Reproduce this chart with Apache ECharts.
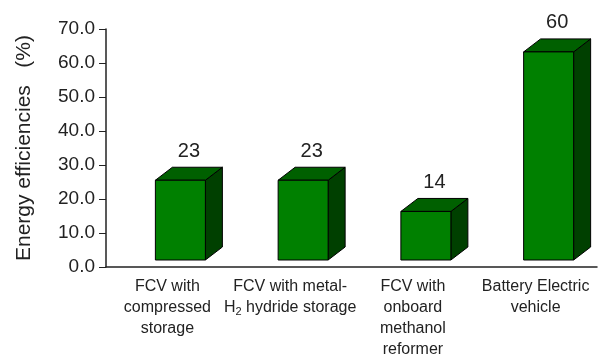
<!DOCTYPE html>
<html>
<head>
<meta charset="utf-8">
<script src="https://cdn.jsdelivr.net/npm/echarts@6/dist/echarts.min.js"></script>
<style>
  html, body { margin: 0; padding: 0; background: #fff; }
  #chart-show { width: 598px; height: 360px; }
</style>
</head>
<body>
<div id="chart-show"></div>
<script>
// categories & values
var categories = [
    'FCV with\ncompressed\nstorage',
    'FCV with metal-\n{sub|H}{low|2} hydride storage',
    'FCV with\nonboard\nmethanol\nreformer',
    'Battery Electric\nvehicle'
];
var efficiencies = [23, 23, 14, 60];
var yTicks = [0, 10, 20, 30, 40, 50, 60, 70];

window.onload = function () {
    var myChart = echarts.init(document.getElementById('chart-show'));

    // 3D box: front face + top + right side
    function renderBox(params, api) {
        var idx = api.value(0);
        var val = api.value(1);
        var base = api.coord([idx, 0]);
        var top = api.coord([idx, val]);
        var fw = 50, dx = 17, dy = 13;
        var cx = base[0] + 13;
        var x0 = cx - fw / 2, x1 = cx + fw / 2;
        var yb = base[1] - 7;
        var yt = yb - (base[1] - top[1]) * 1.02;
        var line = { stroke: '#000', lineWidth: 1 };
        return {
            type: 'group',
            children: [
                {
                    type: 'polygon',
                    shape: { points: [[x1, yt], [x1 + dx, yt - dy], [x1 + dx, yb - dy], [x1, yb]] },
                    style: Object.assign({ fill: '#004000' }, line)
                },
                {
                    type: 'polygon',
                    shape: { points: [[x0, yt], [x0 + dx, yt - dy], [x1 + dx, yt - dy], [x1, yt]] },
                    style: Object.assign({ fill: '#006000' }, line)
                },
                {
                    type: 'rect',
                    shape: { x: x0, y: yt, width: fw, height: yb - yt },
                    style: Object.assign({ fill: '#008000' }, line)
                },
                {
                    type: 'text',
                    x: cx + dx / 2,
                    y: yt - dy - 6,
                    style: {
                        text: String(val),
                        fill: '#222',
                        font: '20px Arial, "Liberation Sans"',
                        align: 'center',
                        verticalAlign: 'bottom'
                    }
                }
            ]
        };
    }

    var option = {
        animation: false,
        backgroundColor: '#fff',
        grid: { left: 106, right: 1, top: 29, bottom: 92 },
        xAxis: {
            type: 'category',
            data: categories,
            axisLine: { lineStyle: { color: '#222', width: 1.5 } },
            axisTick: { length: 7, lineStyle: { color: '#222' } },
            axisLabel: {
                interval: 0,
                margin: 9,
                color: '#222',
                fontSize: 16,
                lineHeight: 21,
                fontFamily: 'Arial, "Liberation Sans"',
                rich: {
                    sub: { fontSize: 16, lineHeight: 21, color: '#222', fontFamily: 'Arial, "Liberation Sans"' },
                    low: { fontSize: 11, lineHeight: 21, color: '#222', padding: [9, 0, 0, 0], fontFamily: 'Arial, "Liberation Sans"' }
                }
            }
        },
        yAxis: {
            type: 'value',
            min: yTicks[0],
            max: yTicks[yTicks.length - 1],
            interval: 10,
            name: 'Energy efficiencies   (%)',
            nameLocation: 'middle',
            nameGap: 71,
            nameRotate: 90,
            nameTextStyle: { fontSize: 21, color: '#222', fontFamily: 'Arial, "Liberation Sans"' },
            splitLine: { show: false },
            axisLine: { show: true, lineStyle: { color: '#222', width: 1.5 } },
            axisTick: { show: true, length: 7, lineStyle: { color: '#222' } },
            axisLabel: {
                margin: 11,
                color: '#222',
                fontSize: 19,
                fontFamily: 'Arial, "Liberation Sans"',
                formatter: function (v) { return v.toFixed(1); }
            }
        },
        series: [{
            type: 'custom',
            renderItem: renderBox,
            clip: false,
            data: efficiencies.map(function (v, i) { return [i, v]; })
        }]
    };
    myChart.setOption(option);
    window.onresize = function () { myChart.resize(); };
};
</script>
</body>
</html>
